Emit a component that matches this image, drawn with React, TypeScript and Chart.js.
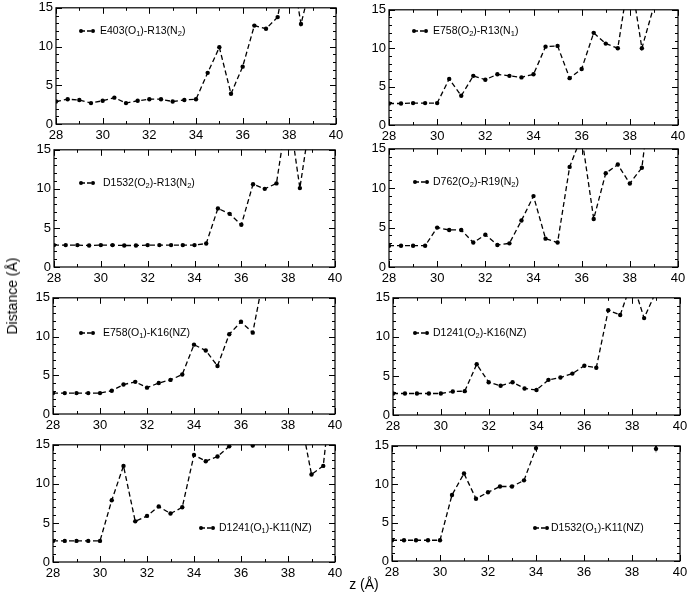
import React, { useEffect, useRef } from "react";
import { Chart, registerables } from "chart.js";

Chart.register(...registerables);

// ---------- data ----------
const zValues = [28, 28.5, 29, 29.5, 30, 30.5, 31, 31.5, 32, 32.5, 33, 33.5, 34, 34.5, 35, 35.5, 36, 36.5, 37, 37.5, 38, 38.5, 39, 39.5, 40];

const e403O1R13N2 = [2.9, 3.2, 3.1, 2.7, 3.0, 3.4, 2.7, 3.0, 3.2, 3.2, 2.9, 3.1, 3.2, 6.6, 9.9, 3.9, 7.4, 12.7, 12.3, 13.8, 22.0, 12.9, 19.0, 20.0, 21.0];
const e758O2R13N1 = [2.8, 2.8, 2.85, 2.85, 2.85, 6.0, 3.8, 6.4, 5.9, 6.6, 6.4, 6.2, 6.6, 10.2, 10.3, 6.1, 7.3, 12.0, 10.6, 10.0, 20.0, 10.0, 15.5, 22.0, 24.0];
const d1532O2R13N2 = [2.8, 2.8, 2.8, 2.75, 2.8, 2.8, 2.75, 2.75, 2.8, 2.8, 2.8, 2.8, 2.8, 3.0, 7.5, 6.8, 5.4, 10.6, 10.0, 10.7, 20.5, 10.1, 20.0, 22.0, 23.0];
const d762O2R19N2 = [2.7, 2.7, 2.7, 2.7, 5.0, 4.7, 4.7, 3.1, 4.1, 2.8, 3.0, 5.9, 9.0, 3.6, 3.1, 12.7, 16.6, 6.1, 11.9, 13.0, 10.6, 12.6, 25.0, 26.0, 27.0];
const e758O1K16NZ = [2.7, 2.7, 2.7, 2.7, 2.7, 3.0, 3.8, 4.15, 3.4, 4.0, 4.4, 5.1, 8.95, 8.2, 6.2, 10.3, 11.9, 10.5, 18.3, 20.0, 21.0, 22.0, 23.0, 24.0, 25.0];
const d1241O2K16NZ = [2.75, 2.75, 2.75, 2.75, 2.75, 3.0, 3.05, 6.5, 4.2, 3.75, 4.2, 3.4, 3.2, 4.5, 4.8, 5.3, 6.3, 6.05, 13.4, 12.8, 17.2, 12.4, 15.8, 20.0, 22.0];
const d1241O1K11NZ = [2.7, 2.7, 2.7, 2.7, 2.7, 7.9, 12.3, 5.2, 5.9, 7.1, 6.2, 7.0, 13.7, 12.9, 13.5, 14.8, 20.0, 14.9, 20.0, 21.0, 22.0, 19.0, 11.2, 12.3, 25.8];
const d1532O1K11NZ = [2.7, 2.7, 2.7, 2.7, 2.7, 8.6, 11.4, 8.1, 8.95, 9.7, 9.7, 10.5, 14.7, 25.0, 25.0, 25.0, 25.0, 25.0, 25.0, 25.0, 25.0, 25.0, 14.6, 25.0, 25.0];

// labels ("_x" marks a subscript character)
const seriesLabels = [
  "E403(O_1)-R13(N_2)",
  "E758(O_2)-R13(N_1)",
  "D1532(O_2)-R13(N_2)",
  "D762(O_2)-R19(N_2)",
  "E758(O_1)-K16(NZ)",
  "D1241(O_2)-K16(NZ)",
  "D1241(O_1)-K11(NZ)",
  "D1532(O_1)-K11(NZ)",
];
const seriesValues = [
  e403O1R13N2, e758O2R13N1, d1532O2R13N2, d762O2R19N2,
  e758O1K16NZ, d1241O2K16NZ, d1241O1K11NZ, d1532O1K11NZ,
];

const xTickLabels = [28, 30, 32, 34, 36, 38, 40];
const yTickLabels = [0, 5, 10, 15];
const xAxisTitle = "z (Å)";
const yAxisTitle = "Distance (Å)";

// ---------- layout (positions only) ----------
const panelBoxes = [
  { l: 56, r: 336, t: 7, b: 124, lx: 79, tx: 100, ly: 31 },
  { l: 389, r: 678, t: 9, b: 125, lx: 412, tx: 433, ly: 31 },
  { l: 54, r: 335, t: 149, b: 267, lx: 79, tx: 103, ly: 183 },
  { l: 389, r: 678, t: 148, b: 267, lx: 413, tx: 433, ly: 182 },
  { l: 53, r: 335, t: 297, b: 414, lx: 79, tx: 103, ly: 333 },
  { l: 393, r: 680, t: 297, b: 415, lx: 413, tx: 433, ly: 333 },
  { l: 53, r: 335, t: 444, b: 562, lx: 199, tx: 219, ly: 528 },
  { l: 392, r: 680, t: 445, b: 561, lx: 533, tx: 551, ly: 528 },
];

const PAD_L = 34, PAD_T = 10, PAD_R = 12, PAD_B = 24;
const FONT = "'Liberation Sans', Arial, Helvetica, sans-serif";

const framePlugin = {
  id: "frameTicks",
  afterDraw(chart: any) {
    const { ctx, chartArea: a, scales } = chart;
    const xs = scales.x, ys = scales.y;
    ctx.save();
    ctx.strokeStyle = "#000";
    ctx.lineWidth = 1.2;
    ctx.strokeRect(a.left, a.top, a.right - a.left, a.bottom - a.top);
    ctx.lineWidth = 1;
    ctx.beginPath();
    for (let v = xs.min; v <= xs.max + 1e-9; v += 1) {
      const px = Math.round(xs.getPixelForValue(v)) + 0.5;
      const len = Math.round(v) % 2 === 0 ? 6 : 3;
      ctx.moveTo(px, a.bottom); ctx.lineTo(px, a.bottom - len);
      ctx.moveTo(px, a.top); ctx.lineTo(px, a.top + len);
    }
    for (let v = ys.min; v <= ys.max + 1e-9; v += 1) {
      const py = Math.round(ys.getPixelForValue(v)) + 0.5;
      const len = Math.round(v) % 5 === 0 ? 6 : 3;
      ctx.moveTo(a.left, py); ctx.lineTo(a.left + len, py);
      ctx.moveTo(a.right, py); ctx.lineTo(a.right - len, py);
    }
    ctx.stroke();
    ctx.restore();
  },
};

function Panel({ idx }: { idx: number }) {
  const ref = useRef<HTMLCanvasElement | null>(null);
  const box = panelBoxes[idx];
  const w = box.r - box.l + PAD_L + PAD_R;
  const h = box.b - box.t + PAD_T + PAD_B;
  useEffect(() => {
    if (!ref.current) return;
    const values = seriesValues[idx];
    const chart = new Chart(ref.current, {
      type: "line",
      data: {
        datasets: [
          {
            data: zValues.map((z, i) => ({ x: z, y: values[i] })),
            borderColor: "#000",
            backgroundColor: "#000",
            borderWidth: 1.3,
            borderDash: [5, 3],
            pointRadius: 2.2,
            pointBorderWidth: 0,
            pointBackgroundColor: "#000",
            tension: 0,
            fill: false,
          },
        ],
      },
      options: {
        responsive: false,
        devicePixelRatio: 1,
        animation: false,
        events: [],
        layout: { padding: { left: 0, top: PAD_T, right: PAD_R, bottom: 0 } },
        plugins: { legend: { display: false }, tooltip: { enabled: false } },
        scales: {
          x: {
            type: "linear",
            min: xTickLabels[0],
            max: xTickLabels[xTickLabels.length - 1],
            afterBuildTicks: (s: any) => { s.ticks = xTickLabels.map((v) => ({ value: v })); },
            afterFit: (s: any) => { s.height = PAD_B; },
            grid: { display: false, drawTicks: false },
            border: { display: false },
            ticks: { color: "#000", padding: 4, maxRotation: 0, autoSkip: false, font: { family: FONT, size: 13 } },
          },
          y: {
            type: "linear",
            min: yTickLabels[0],
            max: yTickLabels[yTickLabels.length - 1],
            afterBuildTicks: (s: any) => { s.ticks = yTickLabels.map((v) => ({ value: v })); },
            afterFit: (s: any) => { s.width = PAD_L; },
            grid: { display: false, drawTicks: false },
            border: { display: false },
            ticks: { color: "#000", padding: 3, autoSkip: false, font: { family: FONT, size: 13 } },
          },
        },
      },
      plugins: [framePlugin],
    } as any);
    return () => chart.destroy();
  }, [idx]);
  return (
    <canvas
      ref={ref}
      width={w}
      height={h}
      style={{ position: "absolute", left: box.l - PAD_L, top: box.t - PAD_T, width: w, height: h }}
    />
  );
}

function LegendLabel({ text }: { text: string }) {
  const parts = text.split(/_(\w)/);
  return (
    <>
      {parts.map((p, i) =>
        i % 2 === 1 ? (
          <sub key={i} style={{ fontSize: "7.5px", verticalAlign: "-2px", lineHeight: 0 }}>{p}</sub>
        ) : (
          <span key={i}>{p}</span>
        )
      )}
    </>
  );
}

function Legend({ idx }: { idx: number }) {
  const box = panelBoxes[idx];
  return (
    <>
      <svg
        width={16}
        height={6}
        style={{ position: "absolute", left: box.lx, top: box.ly - 3 }}
      >
        <line x1={2} y1={3} x2={14} y2={3} stroke="#000" strokeWidth={1.3} strokeDasharray="4 2" />
        <circle cx={2} cy={3} r={2} fill="#000" />
        <circle cx={14} cy={3} r={2} fill="#000" />
      </svg>
      <div
        style={{
          position: "absolute",
          left: box.tx,
          top: box.ly - 7,
          fontFamily: FONT,
          fontSize: "10.5px",
          lineHeight: "13px",
          whiteSpace: "nowrap",
          color: "#000",
        }}
      >
        <LegendLabel text={seriesLabels[idx]} />
      </div>
    </>
  );
}

export default function App() {
  return (
    <div style={{ position: "absolute", left: 0, top: 0, width: 689, height: 596, background: "#fff", overflow: "hidden" }}>
      {panelBoxes.map((_, i) => (
        <Panel key={"p" + i} idx={i} />
      ))}
      {panelBoxes.map((_, i) => (
        <Legend key={"l" + i} idx={i} />
      ))}
      <div
        style={{
          position: "absolute",
          left: 12,
          top: 296,
          transform: "translate(-50%, -50%) rotate(-90deg)",
          fontFamily: FONT,
          fontSize: "14px",
          whiteSpace: "nowrap",
          color: "#000",
        }}
      >
        {yAxisTitle}
      </div>
      <div
        style={{
          position: "absolute",
          left: 364,
          top: 584,
          transform: "translate(-50%, -50%)",
          fontFamily: FONT,
          fontSize: "14px",
          whiteSpace: "nowrap",
          color: "#000",
        }}
      >
        {xAxisTitle}
      </div>
    </div>
  );
}
